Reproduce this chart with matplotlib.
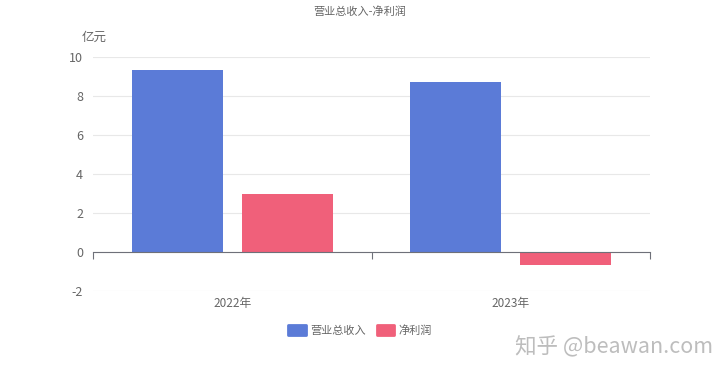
import matplotlib.pyplot as plt
import numpy as np

plt.rcParams['font.family'] = ['Noto Sans CJK SC', 'DejaVu Sans']
plt.rcParams['axes.unicode_minus'] = False

# data
years = ["2022年", "2023年"]
revenue = [9.33, 8.72]      # 营业总收入 (亿元)
profit = [2.97, -0.67]      # 净利润 (亿元)
yticks = [-2, 0, 2, 4, 6, 8, 10]

blue = "#5B7BD7"
red = "#F0607A"
grey = "#6e7079"

fig = plt.figure(figsize=(7.2, 3.76), dpi=100)
ax = fig.add_axes([0.129, 0.226, 0.774, 0.622])

x = np.arange(len(years))
w = 0.327
gap = 0.068
ax.bar(x - (w + gap) / 2, revenue, w, color=blue, label="营业总收入", zorder=3)
ax.bar(x + (w + gap) / 2, profit, w, color=red, label="净利润", zorder=3)

ax.set_xlim(-0.5, len(years) - 0.5)
ax.set_ylim(-2, 10)
ax.set_yticks(yticks)
ax.grid(axis="y", color="#e8e8e8", lw=0.8, zorder=0)
for s in ["top", "right", "left"]:
    ax.spines[s].set_visible(False)

# zero axis line with boundary ticks
ax.spines["bottom"].set_position(("data", 0))
ax.spines["bottom"].set_color(grey)
ax.spines["bottom"].set_zorder(4)
ax.set_xticks(np.arange(len(years) + 1) - 0.5)
ax.tick_params(axis="x", length=5, color=grey, labelbottom=False)
ax.tick_params(axis="y", length=0, labelsize=9, colors="#666666", pad=7)

# category labels at bottom
sec = ax.secondary_xaxis(-0.0)
sec.set_xticks(x)
sec.set_xticklabels(years)
sec.spines["bottom"].set_visible(False)
sec.tick_params(length=0, labelsize=8.5, colors="#666666", pad=4)

ax.text(-0.02, 1.085, "亿元", transform=ax.transAxes, fontsize=9, color="#666666",
        ha="left", va="center")
fig.text(0.5, 0.968, "营业总收入-净利润", ha="center", va="center", fontsize=8, color="#666666")

leg = fig.legend(loc="center", bbox_to_anchor=(0.5, 0.122), ncol=2, frameon=False,
                 fontsize=8, handlelength=1.6, handleheight=1.0, columnspacing=1.0,
                 handletextpad=0.4, labelcolor="#666666")
for h, c in zip(leg.legend_handles, [blue, red]):
    h.set_edgecolor(c)
    h.set_linewidth(2)
    h.set_joinstyle("round")

fig.text(0.99, 0.075, "知乎 @beawan.com", ha="right", va="center", fontsize=15.5, color="#bdbdbd")

fig.savefig("out.png", dpi=100)
